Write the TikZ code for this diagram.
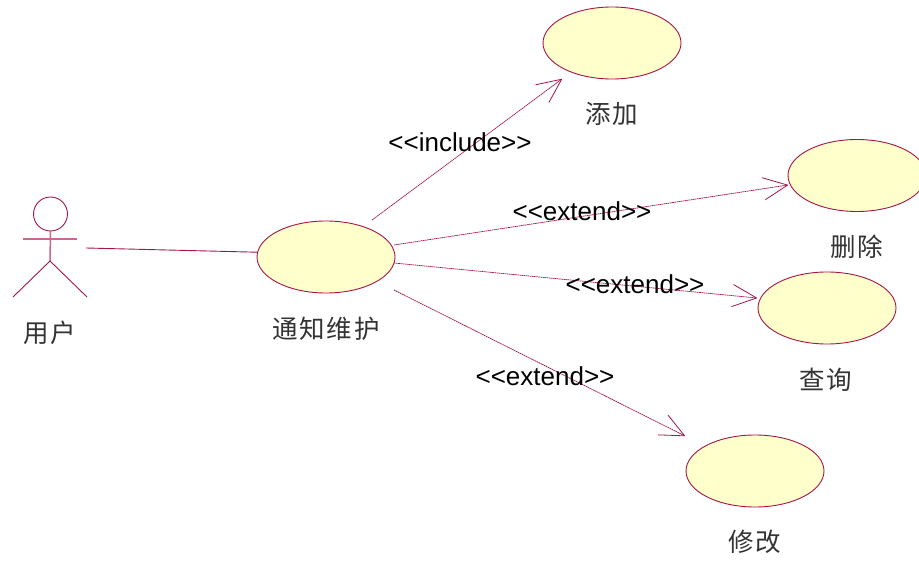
\documentclass[tikz,border=0pt]{standalone}
\usepackage{fontspec}
\setmainfont{Liberation Sans}
\newfontfamily\cjk[LetterSpace=7]{Noto Sans CJK SC}
\usetikzlibrary{shapes.geometric,arrows.meta}
\definecolor{umlline}{HTML}{A5154A}
\definecolor{umlsoft}{HTML}{C8688C}
\definecolor{umlfill}{HTML}{FFFFCB}
\definecolor{cjktext}{HTML}{333333}
\tikzset{
  usecase/.style={ellipse,draw=umlline,fill=umlfill,line width=0.9pt,minimum width=138pt,minimum height=72pt,inner sep=0pt,outer sep=0pt},
  actorline/.style={draw=umlline,line width=0.9pt},
  actorsoft/.style={draw=umlsoft,line width=1.5pt},
  dep/.style={draw=umlline,line width=0.7pt,dash pattern=on 1.6pt off 0.5pt,-{Straight Barb[length=24pt,width=22pt,line width=0.8pt,round]}},
  stereo/.style={font=\fontsize{26}{26}\selectfont,text=black,inner sep=0pt},
  cname/.style={font=\fontsize{25.5}{26}\selectfont\cjk,text=cjktext,inner sep=0pt}
}
\begin{document}
\begin{tikzpicture}[x=1pt,y=-1pt]
\clip (0,0) rectangle (919,561);
\fill[white] (0,0) rectangle (919,561);
% use cases
\node[usecase] (notify) at (326,257) {};
\node[usecase] (add) at (612,43) {};
\node[usecase] (del) at (857,175.5) {};
\node[usecase] (query) at (827,308) {};
\node[usecase] (edit) at (755,471) {};
% actor
\node[circle,draw=umlline,fill=white,line width=0.9pt,minimum size=34pt,inner sep=0pt,outer sep=0pt] (head) at (50.5,214) {};
\coordinate (armL) at (23,239);
\coordinate (armR) at (77,239);
\coordinate (hip) at (50,261);
\coordinate (footL) at (13,297);
\coordinate (footR) at (87,297);
\draw[actorsoft] (head.south) -- (hip);
\draw[actorsoft] (armL) -- (armR);
\draw[actorline] (footL) -- (hip) -- (footR);
% connectors
\coordinate (actorEnd) at (86,248);
\coordinate (s1) at (372,220);
\coordinate (e1) at (562,79);
\coordinate (s2) at (394,245);
\coordinate (e2) at (788,185);
\coordinate (s3) at (394,263);
\coordinate (e3) at (757,298);
\coordinate (s4) at (394,290);
\coordinate (e4) at (685,436);
\draw[actorline] (actorEnd) -- (notify.176.7);
\draw[dep] (s1) -- (e1);
\draw[dep] (s2) -- (e2);
\draw[dep] (s3) -- (e3);
\draw[dep] (s4) -- (e4);
% stereotypes
\node[stereo] (l1) at (460,142.5) {<{}<include>{}>};
\node[stereo] (l2) at (582,211.5) {<{}<extend>{}>};
\node[stereo] (l3) at (635,284.5) {<{}<extend>{}>};
\node[stereo] (l4) at (545,376.5) {<{}<extend>{}>};
% names
\node[cname] (n0) at (50,333) {用户};
\node[cname] (n1) at (326,329) {通知维护};
\node[cname] (n2) at (612,114) {添加};
\node[cname] (n3) at (857,247) {删除};
\node[cname] (n4) at (826,380) {查询};
\node[cname] (n5) at (755,542) {修改};
\end{tikzpicture}
\end{document}
